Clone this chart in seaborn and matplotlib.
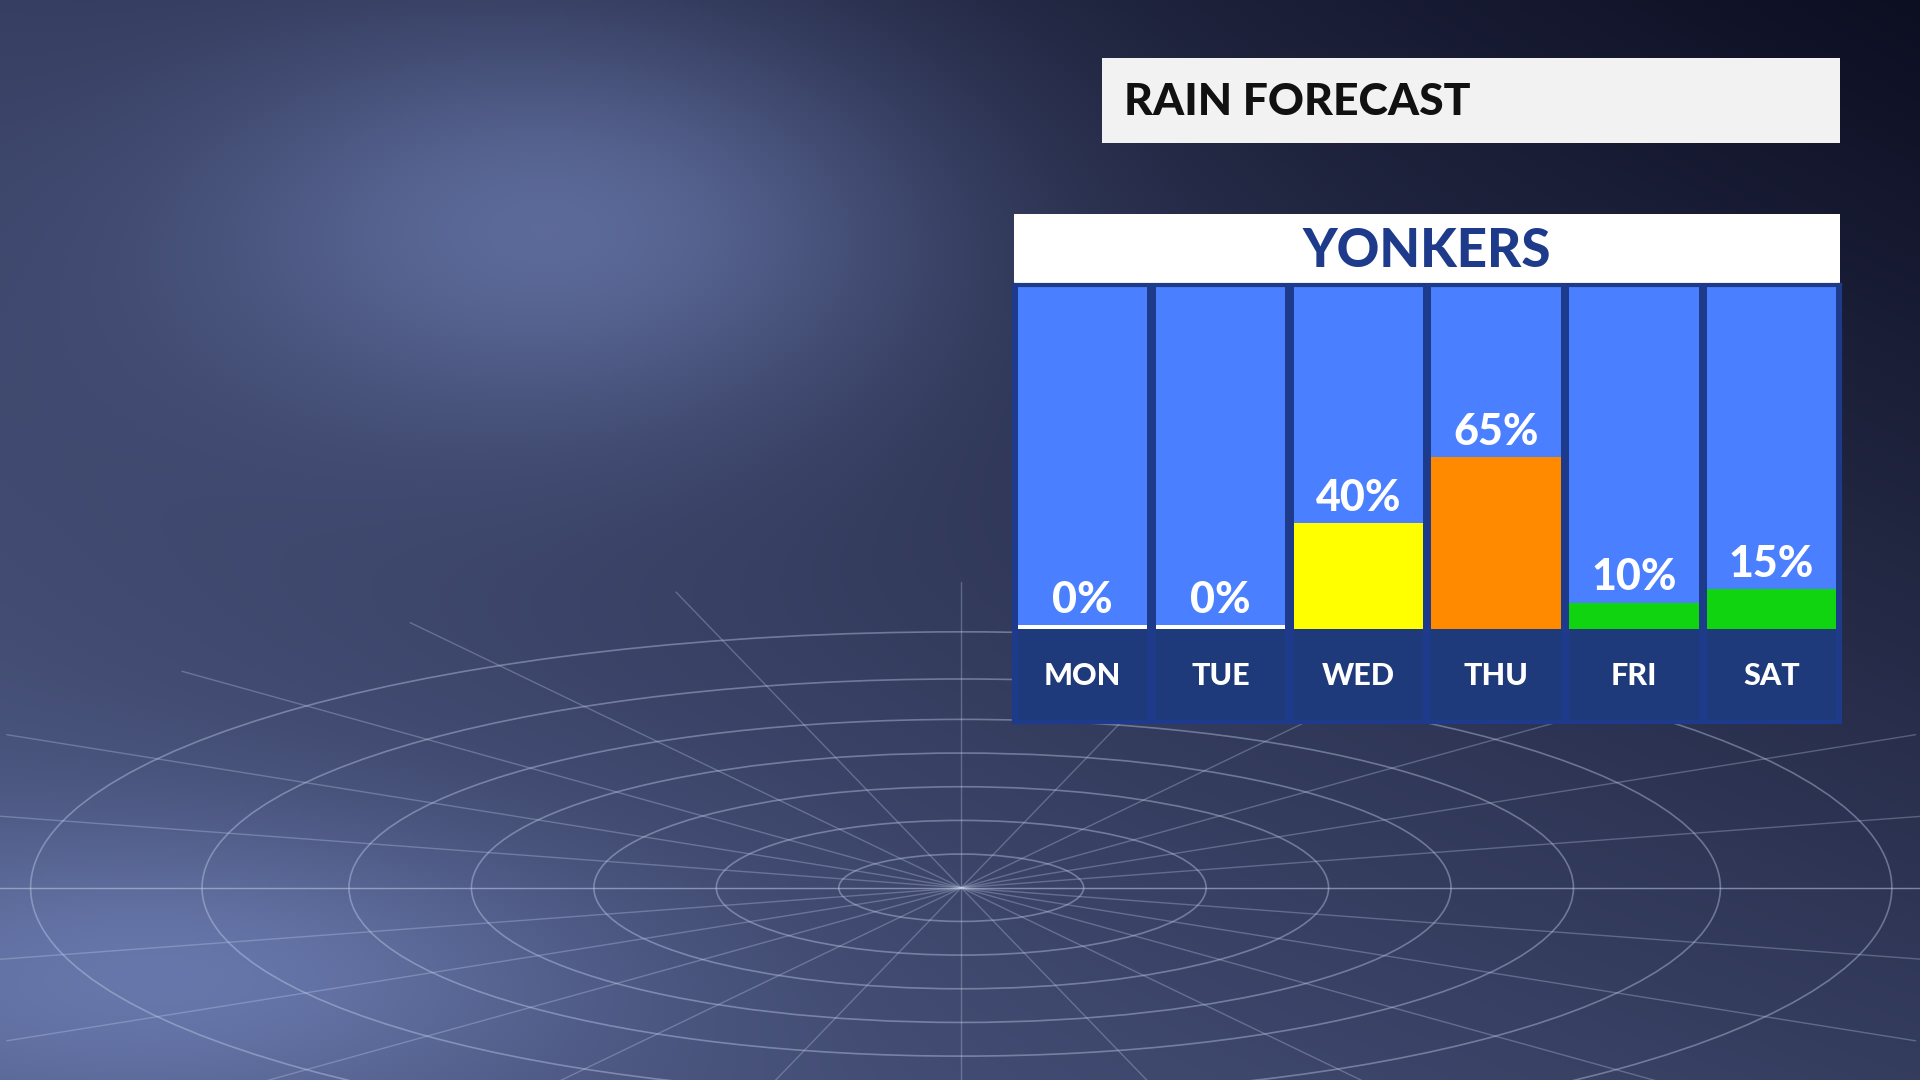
import matplotlib

matplotlib.use("Agg")
import matplotlib.pyplot as plt
import numpy as np
import pandas as pd
import seaborn as sns
from matplotlib.patches import Ellipse

# values
days = ["MON", "TUE", "WED", "THU", "FRI", "SAT"]
chance = [0, 0, 40, 65, 10, 15]
bar_colors = ["#ffffff", "#ffffff", "#ffff00", "#ff8a00", "#11d411", "#11d411"]
city = "YONKERS"
title = "RAIN FORECAST"

W, H = 1568, 882  # reference coords used for layout


def fr(x0, y0, x1, y1):
    return [x0 / W, 1 - y1 / H, (x1 - x0) / W, (y1 - y0) / H]


sns.set_theme(style="white")
plt.rcParams["font.family"] = ["Lato", "DejaVu Sans"]

fig = plt.figure(figsize=(19.2, 10.8), dpi=100)

# stormy backdrop
bg = fig.add_axes([0, 0, 1, 1])
yy, xx = np.mgrid[0:1:270j, 0:1:480j]
shade = 0.26 + 0.22 * np.exp(-((xx - 0.3) ** 2) / 0.04 - ((yy - 0.2) ** 2) / 0.04) \
    - 0.2 * xx * (1 - yy) + 0.12 * yy * (1 - xx) + 0.15 * np.exp(-((xx - 0.1) ** 2) / 0.05 - ((yy - 0.9) ** 2) / 0.02)
shade = np.clip(shade, 0, 1)
rgb = np.dstack([shade * 0.8, shade * 0.92, shade * 1.2 + 0.06])
bg.imshow(np.clip(rgb, 0, 1), extent=[0, W, H, 0], aspect="auto")
for r in [100, 200, 300, 400, 500, 620, 760]:
    bg.add_patch(Ellipse((785, 725), 2 * r, 0.55 * r, fill=False, ec="#c8d4f0", lw=1.2, alpha=0.4))
for a in np.linspace(0, np.pi, 13):
    bg.plot([785 - 900 * np.cos(a), 785 + 900 * np.cos(a)],
            [725 - 250 * np.sin(a), 725 + 250 * np.sin(a)], color="#c8d4f0", lw=1, alpha=0.3)
bg.set_xlim(0, W)
bg.set_ylim(H, 0)
bg.axis("off")

# title box
tax = fig.add_axes(fr(900, 47, 1503, 117))
tax.set_facecolor("#f2f2f2")
tax.set_xticks([]); tax.set_yticks([])
for s in tax.spines.values():
    s.set_visible(False)
tax.text(0.03, 0.48, title, color="#111111", fontsize=32, fontweight="black", va="center", ha="left")

# city header
cax = fig.add_axes(fr(828, 175, 1503, 233))
cax.set_facecolor("#ffffff")
cax.set_xticks([]); cax.set_yticks([])
for s in cax.spines.values():
    s.set_visible(False)
cax.text(0.5, 0.48, city, color="#1e3a8a", fontsize=38, fontweight="black", va="center", ha="center")

# chart panel
ax = fig.add_axes(fr(828, 233, 1503, 590))
ax.set_facecolor("#1e3a8a")
label_depth = 35.3
top = 130.0

x = np.arange(len(days))
ax.bar(x, top, bottom=0, width=0.94, color="#4a80ff", lw=0, zorder=1)
ax.bar(x, label_depth, bottom=-label_depth, width=0.94, color="#1f3a7a", lw=0, zorder=1)

df = pd.DataFrame({"day": days, "chance": chance})
sns.barplot(data=df, x="day", y="chance", hue="day", palette=bar_colors, legend=False,
            width=0.94, ax=ax, zorder=2, saturation=1, linewidth=0)
for i, v in enumerate(chance):
    if v == 0:
        ax.bar(i, 1.6, width=0.94, color="#ffffff", lw=0, zorder=3)
    ax.text(i, max(v, 1.6) + 2, f"{v}%", color="white", fontsize=31, fontweight="black",
            ha="center", va="bottom", zorder=4)
    ax.text(i, -label_depth / 2, days[i], color="white", fontsize=22, fontweight="black",
            ha="center", va="center", zorder=4)

ax.set_xlim(-0.5, len(days) - 0.5)
ax.set_ylim(-label_depth, top)
ax.set_xlabel(""); ax.set_ylabel("")
ax.set_xticks([]); ax.set_yticks([])
for s in ax.spines.values():
    s.set_color("#1e3a8a")
    s.set_linewidth(3)

fig.savefig("out.png", dpi=100)
